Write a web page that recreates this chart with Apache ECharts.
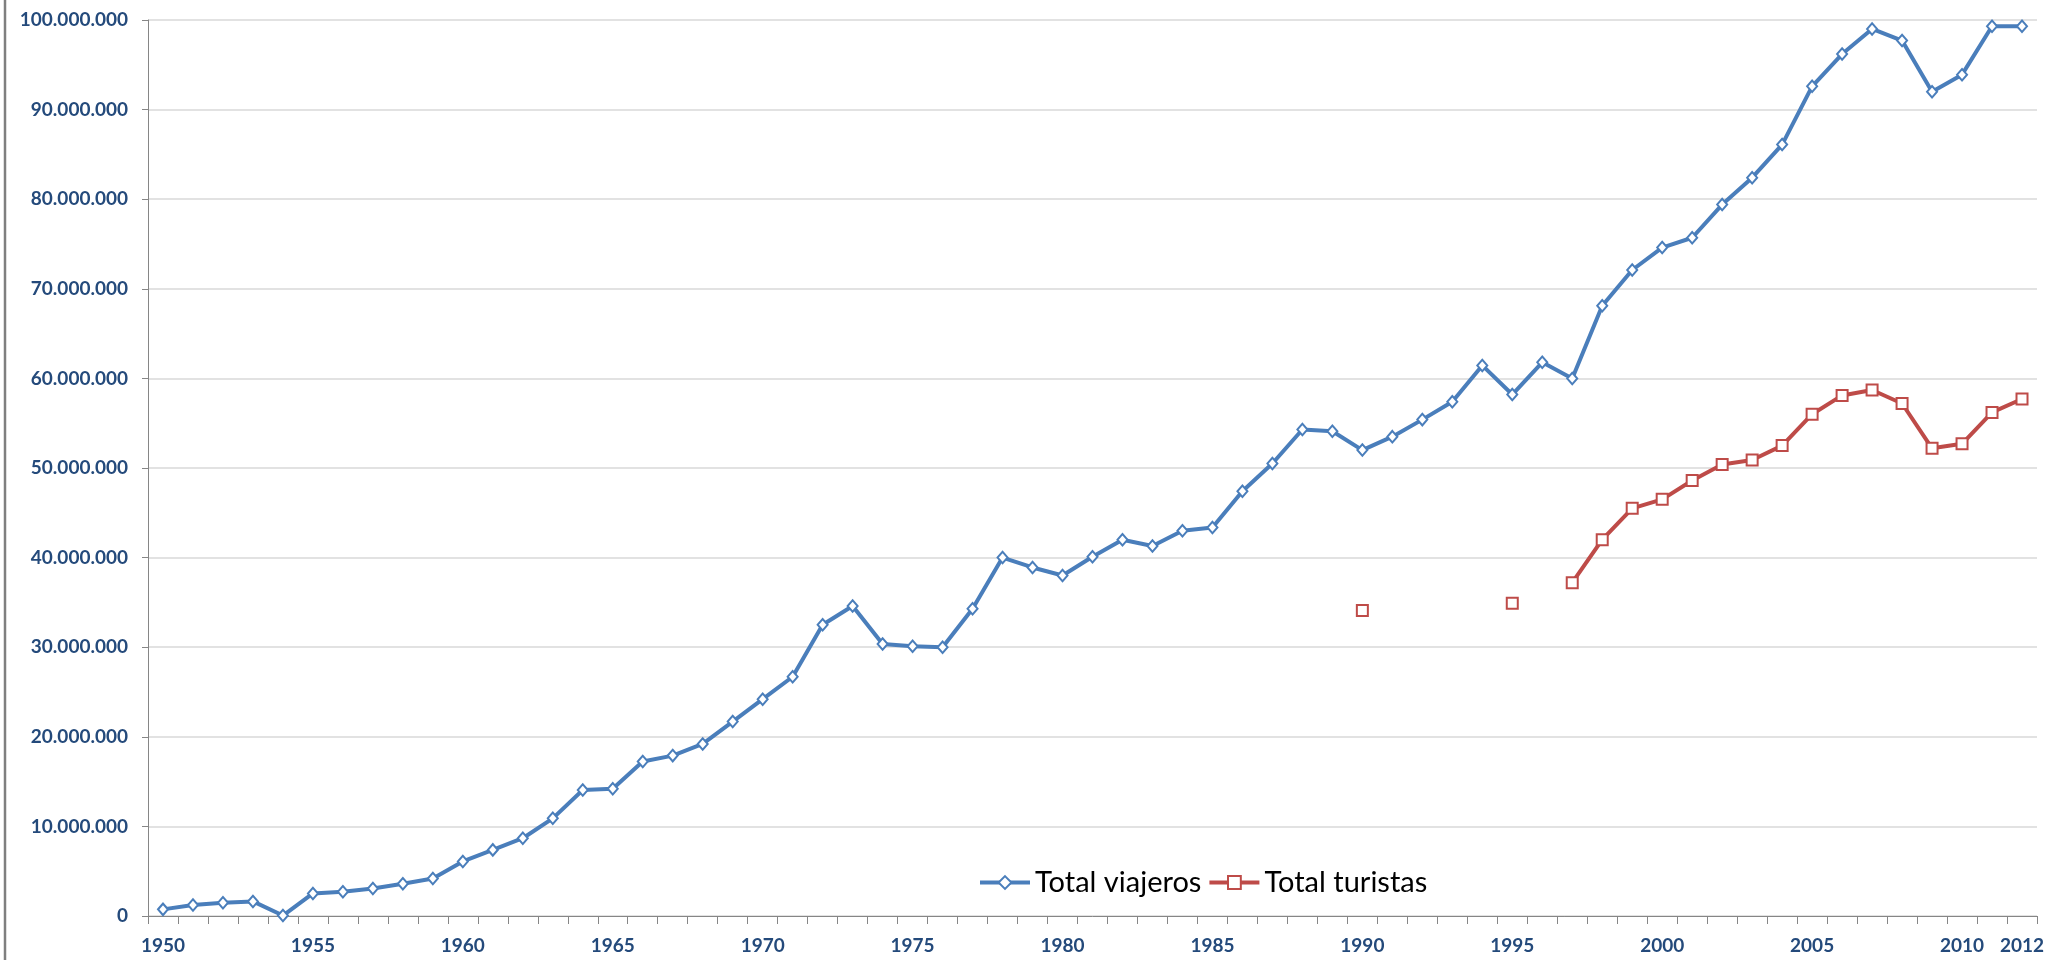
<!DOCTYPE html>
<html>
<head>
<meta charset="utf-8">
<script src="https://cdn.jsdelivr.net/npm/echarts@6/dist/echarts.min.js"></script>
<style>
html,body{margin:0;padding:0;background:#fff;}
#chart{width:2055px;height:960px;}
</style>
</head>
<body>
<div id="chart"></div>
<script>
const years = ['1950','1951','1952','1953','1954','1955','1956','1957','1958','1959',
  '1960','1961','1962','1963','1964','1965','1966','1967','1968','1969',
  '1970','1971','1972','1973','1974','1975','1976','1977','1978','1979',
  '1980','1981','1982','1983','1984','1985','1986','1987','1988','1989',
  '1990','1991','1992','1993','1994','1995','1996','1997','1998','1999',
  '2000','2001','2002','2003','2004','2005','2006','2007','2008','2009',
  '2010','2011','2012'];

const totalViajeros = [
  740000, 1220000, 1480000, 1630000, 50000, 2520000, 2710000, 3080000, 3600000, 4190000,
  6090000, 7380000, 8680000, 10900000, 14060000, 14200000, 17250000, 17900000, 19200000, 21700000,
  24200000, 26700000, 32500000, 34600000, 30350000, 30100000, 30000000, 34300000, 40000000, 38900000,
  38000000, 40100000, 42000000, 41300000, 43000000, 43350000, 47400000, 50500000, 54300000, 54100000,
  52000000, 53500000, 55400000, 57400000, 61450000, 58200000, 61800000, 60000000, 68100000, 72100000,
  74600000, 75700000, 79400000, 82400000, 86100000, 92600000, 96200000, 99000000, 97700000, 92000000,
  93900000, 99300000, 99300000
];

const turistasYears = ['1990','1995','1997','1998','1999','2000','2001','2002','2003','2004',
  '2005','2006','2007','2008','2009','2010','2011','2012'];
const turistasValues = [34100000, 34900000, 37200000, 42000000, 45500000, 46500000, 48600000, 50400000, 50900000, 52500000,
  56000000, 58100000, 58700000, 57200000, 52200000, 52700000, 56200000, 57700000];

const yTicks = [0, 10000000, 20000000, 30000000, 40000000, 50000000, 60000000, 70000000, 80000000, 90000000, 100000000];

const totalTuristas = years.map(y => {
  const i = turistasYears.indexOf(y);
  return i >= 0 ? turistasValues[i] : null;
});

function fmt(v) {
  return String(Math.round(v)).replace(/\B(?=(\d{3})+(?!\d))/g, '.');
}

const chart = echarts.init(document.getElementById('chart'), null, {renderer: 'canvas'});
const labelColor = '#244A7B';
const axisGray = '#868686';

chart.setOption({
  animation: false,
  backgroundColor: '#ffffff',
  textStyle: {fontFamily: 'Lato'},
  grid: {left: 148, right: 18, top: 20, bottom: 44, containLabel: false},
  legend: {
    left: 973,
    top: 863,
    itemWidth: 50,
    itemHeight: 16,
    itemGap: 6,
    lineStyle: {width: 4},
    textStyle: {fontFamily: 'Lato', fontSize: 29, color: '#000000'},
    data: ['Total viajeros', 'Total turistas']
  },
  graphic: [{
    type: 'line',
    shape: {x1: 5, y1: 0, x2: 5, y2: 960},
    style: {stroke: '#7f7f7f', lineWidth: 2.5}
  }],
  xAxis: {
    type: 'category',
    data: years,
    boundaryGap: true,
    axisLine: {lineStyle: {color: axisGray, width: 1}},
    axisTick: {show: true, interval: 0, alignWithLabel: false, length: 8, lineStyle: {color: axisGray}},
    axisLabel: {
      interval: function (index) { return index % 5 === 0 || index === years.length - 1; },
      hideOverlap: false,
      margin: 20,
      fontFamily: 'Lato',
      fontWeight: 'bold',
      fontSize: 19,
      color: labelColor
    },
    splitLine: {show: false}
  },
  yAxis: {
    type: 'value',
    min: yTicks[0],
    max: yTicks[yTicks.length - 1],
    interval: yTicks[1] - yTicks[0],
    axisLine: {show: true, lineStyle: {color: axisGray, width: 1}},
    axisTick: {show: true, length: 6, lineStyle: {color: axisGray}},
    axisLabel: {
      margin: 20,
      fontFamily: 'Lato',
      fontWeight: 'bold',
      fontSize: 19,
      color: labelColor,
      formatter: fmt
    },
    splitLine: {show: true, lineStyle: {color: '#d9d9d9', width: 1.5}}
  },
  series: [
    {
      name: 'Total viajeros',
      type: 'line',
      data: totalViajeros,
      symbol: 'diamond',
      symbolSize: [10, 11.5],
      showAllSymbol: true,
      lineStyle: {color: '#4A7EBB', width: 4},
      itemStyle: {color: '#ffffff', borderColor: '#4A7EBB', borderWidth: 2},
      emphasis: {disabled: true}
    },
    {
      name: 'Total turistas',
      type: 'line',
      data: totalTuristas,
      connectNulls: false,
      symbol: 'rect',
      symbolSize: 11,
      showAllSymbol: true,
      lineStyle: {color: '#BE4B48', width: 4},
      itemStyle: {color: '#ffffff', borderColor: '#BE4B48', borderWidth: 2},
      emphasis: {disabled: true}
    }
  ]
});
</script>
</body>
</html>
